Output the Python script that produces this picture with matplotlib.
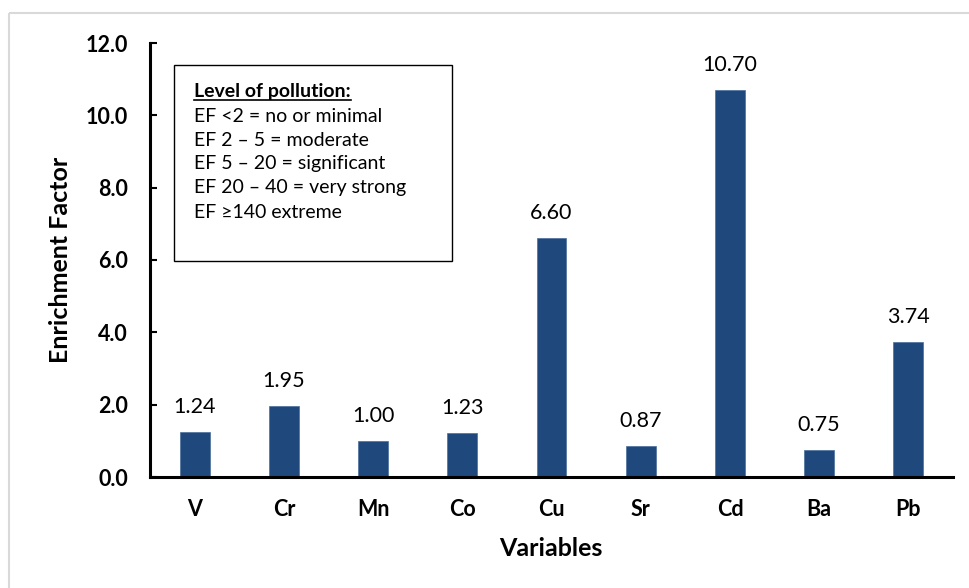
import numpy as np
import matplotlib
matplotlib.use("Agg")
import matplotlib.pyplot as plt
from matplotlib.patches import Rectangle

# données
elements = ["V", "Cr", "Mn", "Co", "Cu", "Sr", "Cd", "Ba", "Pb"]
ef_values = [1.24, 1.95, 1.00, 1.23, 6.60, 0.87, 10.70, 0.75, 3.74]
y_ticks = [0.0, 2.0, 4.0, 6.0, 8.0, 10.0, 12.0]
legend_title = "Level of pollution:"
legend_lines = ["EF <2 = no or minimal",
                "EF 2 \u2013 5 = moderate",
                "EF 5 \u2013 20 = significant",
                "EF 20 \u2013 40 = very strong",
                "EF \u2265140 extreme"]

plt.rcParams['font.family'] = ['Lato', 'DejaVu Sans']

W, H = 969, 588
fig = plt.figure(figsize=(W/100, H/100), dpi=100)

def px(x, y):
    # conversion pixels -> fraction de figure
    return x / W, 1 - y / H

# cadre gris extérieur
fig.patches.append(Rectangle(px(8.5, 12.5), 1.0, -1.0, transform=fig.transFigure,
                             fill=False, edgecolor="#d9d9d9", lw=1.5))

l, t = px(150, 43)
r, b = px(953, 477)
ax = fig.add_axes([l, b, r - l, t - b])

x = np.arange(len(elements))
bars = ax.bar(x, ef_values, width=0.335, color="#1F497D", edgecolor="#4a6f9c", lw=0.5)

for xi, v in zip(x, ef_values):
    ax.annotate(f"{v:.2f}", (xi, v), xytext=(0, 18), textcoords="offset points",
                ha="center", va="center", fontsize=15.5)

ax.set_xlim(-0.5, len(elements) - 0.5)
ax.set_ylim(0, 12)
ax.set_yticks(y_ticks)
ax.set_yticklabels([f"{v:.1f}" for v in y_ticks], fontsize=15.5, fontweight="bold")
ax.set_xticks(x)
ax.set_xticklabels(elements, fontsize=15.5, fontweight="bold")
ax.tick_params(axis="y", direction="in", length=5, width=1.5, pad=16)
ax.tick_params(axis="x", length=0, pad=16)

for s in ["top", "right"]:
    ax.spines[s].set_visible(False)
ax.spines["left"].set_linewidth(2.2)
ax.spines["bottom"].set_linewidth(2.2)

fig.text(*px(60, 260), "Enrichment Factor", rotation=90, ha="center", va="center",
         fontsize=18, fontweight="bold")
fig.text(*px(551, 548), "Variables", ha="center", va="center",
         fontsize=18, fontweight="bold")

# boîte de légende
bl, bt = px(174, 65)
br, bb = px(452, 261)
fig.patches.append(Rectangle((bl, bb), br - bl, bt - bb, transform=fig.transFigure,
                             fill=True, facecolor="white", edgecolor="black", lw=1.0))
tt = fig.text(*px(194, 91), legend_title, ha="left", va="center", fontsize=14,
              fontweight="bold")
for i, line in enumerate(legend_lines):
    fig.text(*px(194, 116 + 24 * i), line, ha="left", va="center", fontsize=14)

# soulignement du titre
fig.canvas.draw()
bbox = tt.get_window_extent()
uy = px(0, 100)[1]
fig.add_artist(plt.Line2D([bbox.x0 / W, bbox.x1 / W], [uy, uy], color="black", lw=1.2))

fig.savefig("out.png", dpi=100)
